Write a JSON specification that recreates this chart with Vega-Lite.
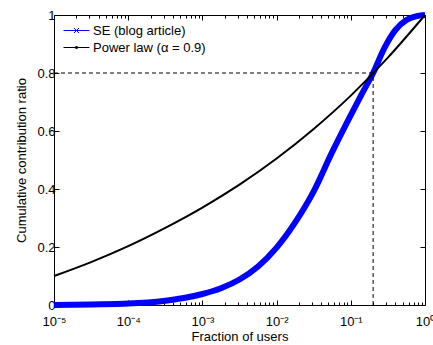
{
  "$schema": "https://vega.github.io/schema/vega-lite/v6.json",
  "width": 371,
  "height": 290,
  "autosize": {"type": "none"},
  "padding": {"left": 54, "top": 15, "right": 8, "bottom": 40},
  "background": "white",
  "config": {
    "view": {"stroke": "#000", "strokeWidth": 1},
    "font": "Liberation Sans",
    "axis": {
      "labelFont": "Liberation Sans", "titleFont": "Liberation Sans",
      "labelFontSize": 13, "titleFontSize": 13, "titleFontWeight": "normal",
      "labelColor": "#000", "titleColor": "#000", "tickColor": "#000",
      "grid": false, "domain": false
    }
  },
  "datasets": {
    "curves": [
      {"x": 0.00001, "y": 0.0, "s": "SE (blog article)"},
      {"x": 0.0000316, "y": 0.002, "s": "SE (blog article)"},
      {"x": 0.0001, "y": 0.005, "s": "SE (blog article)"},
      {"x": 0.000316, "y": 0.015, "s": "SE (blog article)"},
      {"x": 0.000562, "y": 0.024, "s": "SE (blog article)"},
      {"x": 0.001, "y": 0.038, "s": "SE (blog article)"},
      {"x": 0.00178, "y": 0.058, "s": "SE (blog article)"},
      {"x": 0.00316, "y": 0.088, "s": "SE (blog article)"},
      {"x": 0.00562, "y": 0.133, "s": "SE (blog article)"},
      {"x": 0.01, "y": 0.198, "s": "SE (blog article)"},
      {"x": 0.0178, "y": 0.285, "s": "SE (blog article)"},
      {"x": 0.0316, "y": 0.392, "s": "SE (blog article)"},
      {"x": 0.0562, "y": 0.528, "s": "SE (blog article)"},
      {"x": 0.1, "y": 0.655, "s": "SE (blog article)"},
      {"x": 0.141, "y": 0.728, "s": "SE (blog article)"},
      {"x": 0.2, "y": 0.8, "s": "SE (blog article)"},
      {"x": 0.282, "y": 0.885, "s": "SE (blog article)"},
      {"x": 0.398, "y": 0.948, "s": "SE (blog article)"},
      {"x": 0.562, "y": 0.983, "s": "SE (blog article)"},
      {"x": 0.794, "y": 0.997, "s": "SE (blog article)"},
      {"x": 1, "y": 1.0, "s": "SE (blog article)"},
      {"x": 0.00001, "y": 0.1, "s": "Power law (α = 0.9)"},
      {"x": 0.0000316, "y": 0.148, "s": "Power law (α = 0.9)"},
      {"x": 0.0001, "y": 0.203, "s": "Power law (α = 0.9)"},
      {"x": 0.000316, "y": 0.266, "s": "Power law (α = 0.9)"},
      {"x": 0.001, "y": 0.336, "s": "Power law (α = 0.9)"},
      {"x": 0.00316, "y": 0.415, "s": "Power law (α = 0.9)"},
      {"x": 0.01, "y": 0.505, "s": "Power law (α = 0.9)"},
      {"x": 0.0316, "y": 0.607, "s": "Power law (α = 0.9)"},
      {"x": 0.1, "y": 0.722, "s": "Power law (α = 0.9)"},
      {"x": 0.316, "y": 0.853, "s": "Power law (α = 0.9)"},
      {"x": 1, "y": 1.0, "s": "Power law (α = 0.9)"}
    ],
    "hrule": [{"x": 0.00001, "x2": 0.2, "y": 0.8}],
    "vrule": [{"x": 0.2, "y": 0, "y2": 0.8}]
  },
  "resolve": {"axis": {"x": "independent", "y": "independent"}},
  "layer": [
    {
      "data": {"name": "curves"},
      "transform": [{"filter": "datum.s == 'SE (blog article)'"}],
      "mark": {"type": "line", "strokeWidth": 6, "interpolate": "monotone"},
      "encoding": {
        "x": {"field": "x", "type": "quantitative",
          "scale": {"type": "log", "domain": [0.00001, 1], "nice": false},
          "axis": {"orient": "bottom", "values": [0.00001, 0.0001, 0.001, 0.01, 0.1, 1],
            "labelExpr": "datum.value < 0.00005 ? '10⁻⁵' : datum.value < 0.0005 ? '10⁻⁴' : datum.value < 0.005 ? '10⁻³' : datum.value < 0.05 ? '10⁻²' : datum.value < 0.5 ? '10⁻¹' : '10⁰'",
            "tickSize": -5, "labelPadding": 15, "labelFlush": false, "labelOverlap": false,
            "title": "Fraction of users", "titlePadding": 2}},
        "y": {"field": "y", "type": "quantitative",
          "scale": {"domain": [0, 1], "nice": false},
          "axis": {"orient": "left", "values": [0, 0.2, 0.4, 0.6, 0.8, 1], "format": ".1~f",
            "tickSize": -5, "labelPadding": 4, "labelFlush": false,
            "title": "Cumulative contribution ratio", "titlePadding": 8}},
        "color": {"field": "s", "type": "nominal",
          "scale": {"domain": ["SE (blog article)", "Power law (α = 0.9)"], "range": ["#0000ff", "#000000"]},
          "legend": {"title": null, "orient": "none", "legendX": 13, "legendY": 6,
            "symbolSize": 324, "symbolStrokeWidth": 1, "labelFontSize": 13, "labelFont": "Liberation Sans",
            "labelColor": "#000", "labelOffset": 7, "rowPadding": 0, "padding": 0,
            "symbolType": "M-1.44,0H1.44",
            "encode": {"symbols": {"update": {
              "shape": {"signal": "datum.value === 'SE (blog article)' ? 'M-1.44,0H1.44M-0.28,-0.28L0.28,0.28M-0.28,0.28L0.28,-0.28' : 'M-1.44,0H1.44M-0.1,-0.1H0.1V0.1H-0.1Z'"},
              "fill": {"value": "transparent"}}}}}}
      }
    },
    {
      "data": {"name": "curves"},
      "transform": [{"filter": "datum.s != 'SE (blog article)'"}],
      "mark": {"type": "line", "strokeWidth": 2, "interpolate": "monotone"},
      "encoding": {
        "x": {"field": "x", "type": "quantitative",
          "scale": {"type": "log", "domain": [0.00001, 1], "nice": false},
          "axis": {"orient": "bottom", "title": null, "labels": false, "tickSize": -3,
            "values": [0.00002,0.00003,0.00004,0.00005,0.00006,0.00007,0.00008,0.00009,
                       0.0002,0.0003,0.0004,0.0005,0.0006,0.0007,0.0008,0.0009,
                       0.002,0.003,0.004,0.005,0.006,0.007,0.008,0.009,
                       0.02,0.03,0.04,0.05,0.06,0.07,0.08,0.09,
                       0.2,0.3,0.4,0.5,0.6,0.7,0.8,0.9]}},
        "y": {"field": "y", "type": "quantitative",
          "scale": {"domain": [0, 1], "nice": false},
          "axis": {"orient": "right", "title": null, "labels": false, "tickSize": -5,
            "values": [0, 0.2, 0.4, 0.6, 0.8, 1]}},
        "color": {"field": "s", "type": "nominal",
          "scale": {"domain": ["SE (blog article)", "Power law (α = 0.9)"], "range": ["#0000ff", "#000000"]},
          "legend": null}
      }
    },
    {
      "data": {"name": "hrule"},
      "mark": {"type": "rule", "color": "#000", "strokeWidth": 1, "strokeDash": [4, 3]},
      "encoding": {
        "x": {"field": "x", "type": "quantitative",
          "scale": {"type": "log", "domain": [0.00001, 1], "nice": false},
          "axis": {"orient": "top", "title": null, "labels": false, "tickSize": -5,
            "values": [0.00001, 0.0001, 0.001, 0.01, 0.1, 1]}},
        "x2": {"field": "x2"},
        "y": {"field": "y", "type": "quantitative", "scale": {"domain": [0, 1], "nice": false}, "axis": null}
      }
    },
    {
      "data": {"name": "vrule"},
      "mark": {"type": "rule", "color": "#000", "strokeWidth": 1, "strokeDash": [4, 3]},
      "encoding": {
        "x": {"field": "x", "type": "quantitative",
          "scale": {"type": "log", "domain": [0.00001, 1], "nice": false},
          "axis": {"orient": "top", "title": null, "labels": false, "tickSize": -3,
            "values": [0.00002,0.00003,0.00004,0.00005,0.00006,0.00007,0.00008,0.00009,
                       0.0002,0.0003,0.0004,0.0005,0.0006,0.0007,0.0008,0.0009,
                       0.002,0.003,0.004,0.005,0.006,0.007,0.008,0.009,
                       0.02,0.03,0.04,0.05,0.06,0.07,0.08,0.09,
                       0.2,0.3,0.4,0.5,0.6,0.7,0.8,0.9]}},
        "y": {"field": "y", "type": "quantitative", "scale": {"domain": [0, 1], "nice": false}, "axis": null},
        "y2": {"field": "y2"}
      }
    }
  ]
}
